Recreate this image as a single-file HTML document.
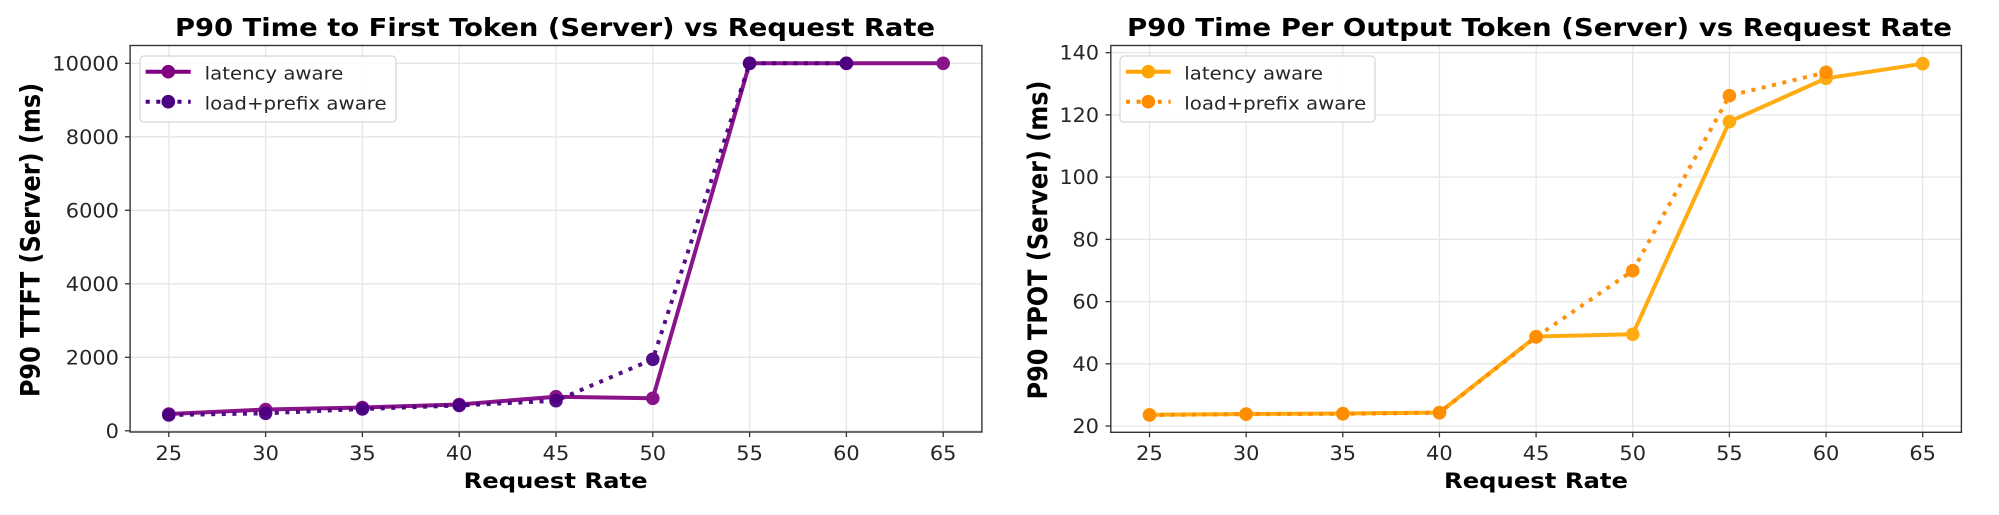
<!DOCTYPE html>
<html>
<head>
<meta charset="utf-8">
<style>
html,body{margin:0;padding:0;background:#ffffff;}
body{width:1999px;height:515px;overflow:hidden;}
svg{display:block;}
text{font-family:"DejaVu Sans","Liberation Sans",sans-serif;}
.tick{font-size:19.5px;fill:#262626;}
.ttl{font-size:25px;font-weight:bold;fill:#000;}
.lab{font-size:21.5px;font-weight:bold;fill:#000;}
.ylab{font-size:24px;font-weight:bold;fill:#000;}
.leg{font-size:18px;fill:#262626;}
.grid line{stroke:#e6e6e6;stroke-width:1.3;}
.spine{fill:none;stroke:#333;stroke-width:1.4;}
.tk line{stroke:#333;stroke-width:1.3;}
</style>
</head>
<body>
<svg width="1999" height="515" viewBox="0 0 1999 515" xmlns="http://www.w3.org/2000/svg">
<rect x="0" y="0" width="1999" height="515" fill="#fff"/>

<!-- ================= LEFT CHART ================= -->
<g class="grid">
  <line x1="168.8" y1="45.5" x2="168.8" y2="432"/>
  <line x1="265.6" y1="45.5" x2="265.6" y2="432"/>
  <line x1="362.4" y1="45.5" x2="362.4" y2="432"/>
  <line x1="459.2" y1="45.5" x2="459.2" y2="432"/>
  <line x1="556" y1="45.5" x2="556" y2="432"/>
  <line x1="652.8" y1="45.5" x2="652.8" y2="432"/>
  <line x1="749.6" y1="45.5" x2="749.6" y2="432"/>
  <line x1="846.4" y1="45.5" x2="846.4" y2="432"/>
  <line x1="943.2" y1="45.5" x2="943.2" y2="432"/>
  <line x1="130.1" y1="430.8" x2="981.9" y2="430.8"/>
  <line x1="130.1" y1="357.3" x2="981.9" y2="357.3"/>
  <line x1="130.1" y1="283.8" x2="981.9" y2="283.8"/>
  <line x1="130.1" y1="210.3" x2="981.9" y2="210.3"/>
  <line x1="130.1" y1="136.8" x2="981.9" y2="136.8"/>
  <line x1="130.1" y1="63.3" x2="981.9" y2="63.3"/>
</g>

<!-- latency aware (purple) -->
<g opacity="0.92">
<polyline fill="none" stroke="#800080" stroke-width="4" stroke-linejoin="round"
 points="168.8,414 265.6,409.5 362.4,407.5 459.2,404.5 556,396.7 652.8,398.3 749.6,63.3 846.4,63.3 943.2,63.3"/>
<g fill="#800080">
<circle cx="168.8" cy="414" r="6.8"/><circle cx="265.6" cy="409.5" r="6.8"/><circle cx="362.4" cy="407.5" r="6.8"/>
<circle cx="459.2" cy="404.5" r="6.8"/><circle cx="556" cy="396.7" r="6.8"/><circle cx="652.8" cy="398.3" r="6.8"/>
<circle cx="749.6" cy="63.3" r="6.8"/><circle cx="846.4" cy="63.3" r="6.8"/><circle cx="943.2" cy="63.3" r="6.8"/>
</g>
</g>
<!-- load+prefix aware (indigo) -->
<g opacity="0.95">
<polyline fill="none" stroke="#4B0082" stroke-width="4" stroke-dasharray="4 6.6"
 points="168.8,415 265.6,413.3 362.4,409 459.2,405.5 556,400.7 652.8,359.3 749.6,63.3 846.4,63.3"/>
<g fill="#4B0082">
<circle cx="168.8" cy="415" r="6.8"/><circle cx="265.6" cy="413.3" r="6.8"/><circle cx="362.4" cy="409" r="6.8"/>
<circle cx="459.2" cy="405.5" r="6.8"/><circle cx="556" cy="400.7" r="6.8"/><circle cx="652.8" cy="359.3" r="6.8"/>
<circle cx="749.6" cy="63.3" r="6.8"/><circle cx="846.4" cy="63.3" r="6.8"/>
</g>
</g>

<rect class="spine" x="130.1" y="45.5" width="851.8" height="386.5"/>
<g class="tk">
  <line x1="168.8" y1="432" x2="168.8" y2="437"/>
  <line x1="265.6" y1="432" x2="265.6" y2="437"/>
  <line x1="362.4" y1="432" x2="362.4" y2="437"/>
  <line x1="459.2" y1="432" x2="459.2" y2="437"/>
  <line x1="556" y1="432" x2="556" y2="437"/>
  <line x1="652.8" y1="432" x2="652.8" y2="437"/>
  <line x1="749.6" y1="432" x2="749.6" y2="437"/>
  <line x1="846.4" y1="432" x2="846.4" y2="437"/>
  <line x1="943.2" y1="432" x2="943.2" y2="437"/>
  <line x1="125" y1="430.8" x2="130.1" y2="430.8"/>
  <line x1="125" y1="357.3" x2="130.1" y2="357.3"/>
  <line x1="125" y1="283.8" x2="130.1" y2="283.8"/>
  <line x1="125" y1="210.3" x2="130.1" y2="210.3"/>
  <line x1="125" y1="136.8" x2="130.1" y2="136.8"/>
  <line x1="125" y1="63.3" x2="130.1" y2="63.3"/>
</g>
<g class="tick">
  <text x="155.5" y="460" textLength="26.6" lengthAdjust="spacingAndGlyphs">25</text>
  <text x="252.3" y="460" textLength="26.6" lengthAdjust="spacingAndGlyphs">30</text>
  <text x="349.1" y="460" textLength="26.6" lengthAdjust="spacingAndGlyphs">35</text>
  <text x="445.9" y="460" textLength="26.6" lengthAdjust="spacingAndGlyphs">40</text>
  <text x="542.7" y="460" textLength="26.6" lengthAdjust="spacingAndGlyphs">45</text>
  <text x="639.5" y="460" textLength="26.6" lengthAdjust="spacingAndGlyphs">50</text>
  <text x="736.3" y="460" textLength="26.6" lengthAdjust="spacingAndGlyphs">55</text>
  <text x="833.1" y="460" textLength="26.6" lengthAdjust="spacingAndGlyphs">60</text>
  <text x="929.9" y="460" textLength="26.6" lengthAdjust="spacingAndGlyphs">65</text>
  <text x="105.7" y="437.8" textLength="13.3" lengthAdjust="spacingAndGlyphs">0</text>
  <text x="65.8" y="364.3" textLength="53.2" lengthAdjust="spacingAndGlyphs">2000</text>
  <text x="65.8" y="290.8" textLength="53.2" lengthAdjust="spacingAndGlyphs">4000</text>
  <text x="65.8" y="217.3" textLength="53.2" lengthAdjust="spacingAndGlyphs">6000</text>
  <text x="65.8" y="143.8" textLength="53.2" lengthAdjust="spacingAndGlyphs">8000</text>
  <text x="52.3" y="70.3" textLength="66.7" lengthAdjust="spacingAndGlyphs">10000</text>
</g>

<!-- legend left -->
<rect x="140" y="56" width="256" height="66" rx="4" ry="4" fill="#fff" fill-opacity="0.85" stroke="#d6d6d6" stroke-width="1.2"/>
<line x1="145.7" y1="71.7" x2="190.7" y2="71.7" stroke="#800080" stroke-width="4"/>
<circle cx="168.3" cy="71.7" r="6.8" fill="#800080"/>
<line x1="145.7" y1="101.7" x2="190.7" y2="101.7" stroke="#4B0082" stroke-width="4" stroke-dasharray="4 6.6"/>
<circle cx="168.3" cy="101.7" r="6.8" fill="#4B0082"/>
<text class="leg" x="204.7" y="79.5" textLength="138.7" lengthAdjust="spacingAndGlyphs">latency aware</text>
<text class="leg" x="204.7" y="109.5" textLength="182" lengthAdjust="spacingAndGlyphs">load+prefix aware</text>

<text class="ttl" x="175" y="36" textLength="760" lengthAdjust="spacingAndGlyphs">P90 Time to First Token (Server) vs Request Rate</text>
<text class="lab" x="463.6" y="488" textLength="184" lengthAdjust="spacingAndGlyphs">Request Rate</text>
<text class="ylab" transform="translate(39.3,240) scale(1.1,1) rotate(-90)" text-anchor="middle">P90 TTFT (Server) (ms)</text>

<!-- ================= RIGHT CHART ================= -->
<g class="grid">
  <line x1="1149.5" y1="45.5" x2="1149.5" y2="432.3"/>
  <line x1="1246.15" y1="45.5" x2="1246.15" y2="432.3"/>
  <line x1="1342.8" y1="45.5" x2="1342.8" y2="432.3"/>
  <line x1="1439.45" y1="45.5" x2="1439.45" y2="432.3"/>
  <line x1="1536.1" y1="45.5" x2="1536.1" y2="432.3"/>
  <line x1="1632.75" y1="45.5" x2="1632.75" y2="432.3"/>
  <line x1="1729.4" y1="45.5" x2="1729.4" y2="432.3"/>
  <line x1="1826.05" y1="45.5" x2="1826.05" y2="432.3"/>
  <line x1="1922.7" y1="45.5" x2="1922.7" y2="432.3"/>
  <line x1="1110.8" y1="426" x2="1961.4" y2="426"/>
  <line x1="1110.8" y1="363.8" x2="1961.4" y2="363.8"/>
  <line x1="1110.8" y1="301.6" x2="1961.4" y2="301.6"/>
  <line x1="1110.8" y1="239.4" x2="1961.4" y2="239.4"/>
  <line x1="1110.8" y1="177.1" x2="1961.4" y2="177.1"/>
  <line x1="1110.8" y1="114.9" x2="1961.4" y2="114.9"/>
  <line x1="1110.8" y1="52.7" x2="1961.4" y2="52.7"/>
</g>

<!-- latency aware (orange) -->
<g opacity="0.92">
<polyline fill="none" stroke="#FFA500" stroke-width="4" stroke-linejoin="round"
 points="1149.5,414.8 1246.15,414 1342.8,413.5 1439.45,412.5 1536.1,336.5 1632.75,334.3 1729.4,121.7 1826.05,78.3 1922.7,63.7"/>
<g fill="#FFA500">
<circle cx="1149.5" cy="414.8" r="6.8"/><circle cx="1246.15" cy="414" r="6.8"/><circle cx="1342.8" cy="413.5" r="6.8"/>
<circle cx="1439.45" cy="412.5" r="6.8"/><circle cx="1536.1" cy="336.5" r="6.8"/><circle cx="1632.75" cy="334.3" r="6.8"/>
<circle cx="1729.4" cy="121.7" r="6.8"/><circle cx="1826.05" cy="78.3" r="6.8"/><circle cx="1922.7" cy="63.7" r="6.8"/>
</g>
</g>
<!-- load+prefix aware (darkorange) -->
<g opacity="0.95">
<polyline fill="none" stroke="#FF8C00" stroke-width="4" stroke-dasharray="4 6.6"
 points="1149.5,415 1246.15,414.2 1342.8,413.8 1439.45,412.8 1536.1,337 1632.75,270.7 1729.4,95.7 1826.05,72.3"/>
<g fill="#FF8C00">
<circle cx="1149.5" cy="415" r="6.8"/><circle cx="1246.15" cy="414.2" r="6.8"/><circle cx="1342.8" cy="413.8" r="6.8"/>
<circle cx="1439.45" cy="412.8" r="6.8"/><circle cx="1536.1" cy="337" r="6.8"/><circle cx="1632.75" cy="270.7" r="6.8"/>
<circle cx="1729.4" cy="95.7" r="6.8"/><circle cx="1826.05" cy="72.3" r="6.8"/>
</g>
</g>

<rect class="spine" x="1110.8" y="45.5" width="850.6" height="386.8"/>
<g class="tk">
  <line x1="1149.5" y1="432.3" x2="1149.5" y2="437.3"/>
  <line x1="1246.15" y1="432.3" x2="1246.15" y2="437.3"/>
  <line x1="1342.8" y1="432.3" x2="1342.8" y2="437.3"/>
  <line x1="1439.45" y1="432.3" x2="1439.45" y2="437.3"/>
  <line x1="1536.1" y1="432.3" x2="1536.1" y2="437.3"/>
  <line x1="1632.75" y1="432.3" x2="1632.75" y2="437.3"/>
  <line x1="1729.4" y1="432.3" x2="1729.4" y2="437.3"/>
  <line x1="1826.05" y1="432.3" x2="1826.05" y2="437.3"/>
  <line x1="1922.7" y1="432.3" x2="1922.7" y2="437.3"/>
  <line x1="1105.5" y1="426" x2="1110.8" y2="426"/>
  <line x1="1105.5" y1="363.8" x2="1110.8" y2="363.8"/>
  <line x1="1105.5" y1="301.6" x2="1110.8" y2="301.6"/>
  <line x1="1105.5" y1="239.4" x2="1110.8" y2="239.4"/>
  <line x1="1105.5" y1="177.1" x2="1110.8" y2="177.1"/>
  <line x1="1105.5" y1="114.9" x2="1110.8" y2="114.9"/>
  <line x1="1105.5" y1="52.7" x2="1110.8" y2="52.7"/>
</g>
<g class="tick">
  <text x="1136.2" y="460" textLength="26.6" lengthAdjust="spacingAndGlyphs">25</text>
  <text x="1232.85" y="460" textLength="26.6" lengthAdjust="spacingAndGlyphs">30</text>
  <text x="1329.5" y="460" textLength="26.6" lengthAdjust="spacingAndGlyphs">35</text>
  <text x="1426.15" y="460" textLength="26.6" lengthAdjust="spacingAndGlyphs">40</text>
  <text x="1522.8" y="460" textLength="26.6" lengthAdjust="spacingAndGlyphs">45</text>
  <text x="1619.45" y="460" textLength="26.6" lengthAdjust="spacingAndGlyphs">50</text>
  <text x="1716.1" y="460" textLength="26.6" lengthAdjust="spacingAndGlyphs">55</text>
  <text x="1812.75" y="460" textLength="26.6" lengthAdjust="spacingAndGlyphs">60</text>
  <text x="1909.4" y="460" textLength="26.6" lengthAdjust="spacingAndGlyphs">65</text>
  <text x="1072.4" y="433" textLength="26.6" lengthAdjust="spacingAndGlyphs">20</text>
  <text x="1072.4" y="370.8" textLength="26.6" lengthAdjust="spacingAndGlyphs">40</text>
  <text x="1072.4" y="308.6" textLength="26.6" lengthAdjust="spacingAndGlyphs">60</text>
  <text x="1072.4" y="246.4" textLength="26.6" lengthAdjust="spacingAndGlyphs">80</text>
  <text x="1059.5" y="184.1" textLength="39.5" lengthAdjust="spacingAndGlyphs">100</text>
  <text x="1059.5" y="121.9" textLength="39.5" lengthAdjust="spacingAndGlyphs">120</text>
  <text x="1059.5" y="59.7" textLength="39.5" lengthAdjust="spacingAndGlyphs">140</text>
</g>

<!-- legend right -->
<rect x="1120" y="56" width="255" height="66" rx="4" ry="4" fill="#fff" fill-opacity="0.85" stroke="#d6d6d6" stroke-width="1.2"/>
<line x1="1126" y1="71.7" x2="1170.7" y2="71.7" stroke="#FFA500" stroke-width="4"/>
<circle cx="1148.3" cy="71.7" r="6.8" fill="#FFA500"/>
<line x1="1126" y1="101.7" x2="1170.7" y2="101.7" stroke="#FF8C00" stroke-width="4" stroke-dasharray="4 6.6"/>
<circle cx="1148.3" cy="101.7" r="6.8" fill="#FF8C00"/>
<text class="leg" x="1184.3" y="79.5" textLength="138.7" lengthAdjust="spacingAndGlyphs">latency aware</text>
<text class="leg" x="1184.3" y="109.5" textLength="182" lengthAdjust="spacingAndGlyphs">load+prefix aware</text>

<text class="ttl" x="1127" y="36" textLength="825" lengthAdjust="spacingAndGlyphs">P90 Time Per Output Token (Server) vs Request Rate</text>
<text class="lab" x="1444" y="488" textLength="184" lengthAdjust="spacingAndGlyphs">Request Rate</text>
<text class="ylab" transform="translate(1047,240) scale(1.1,1) rotate(-90)" text-anchor="middle">P90 TPOT (Server) (ms)</text>
</svg>
</body>
</html>
